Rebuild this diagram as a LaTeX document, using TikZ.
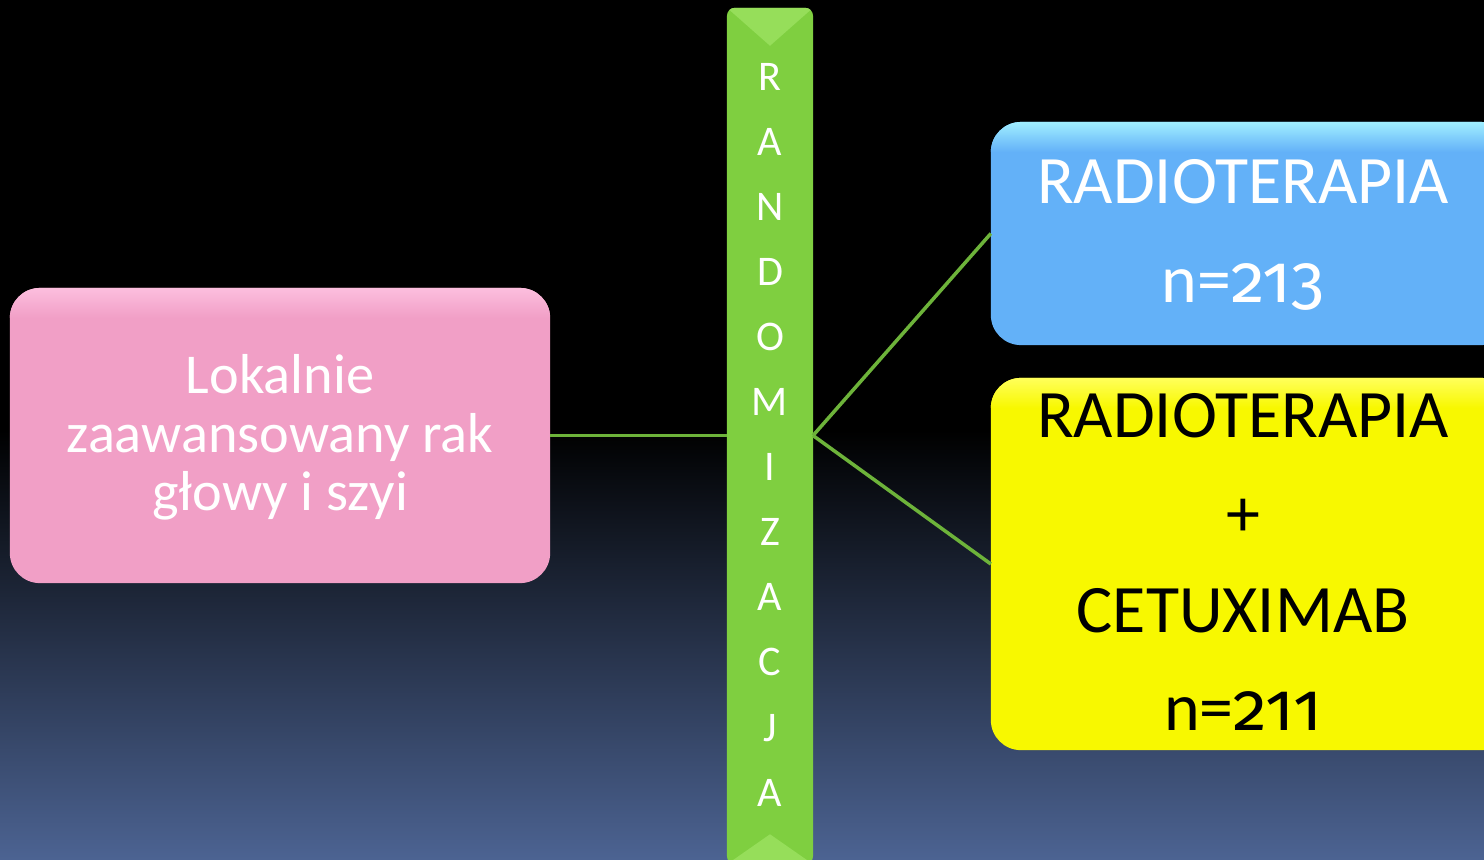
\documentclass[tikz,border=0pt]{standalone}
\usepackage{fontspec}
\setmainfont{Carlito}
\newfontfamily\numfont{Fira Sans}[Numbers=OldStyle]
\definecolor{bgblue}{RGB}{76,99,146}
\definecolor{pinkc}{RGB}{241,159,198}
\definecolor{pinkl}{RGB}{252,190,222}
\definecolor{bluec}{RGB}{99,177,248}
\definecolor{bluel}{RGB}{160,238,255}
\definecolor{yellowc}{RGB}{248,248,0}
\definecolor{yellowl}{RGB}{255,255,90}
\definecolor{greenc}{RGB}{127,207,64}
\definecolor{greenl}{RGB}{150,222,90}
\definecolor{linec}{RGB}{109,179,58}
\tikzset{
  box/.style={draw=none, rounded corners=0.3cm, inner sep=0pt, outer sep=0pt},
  conn/.style={draw=linec, line width=1pt},
  pinktxt/.style={anchor=base, text=white, font=\fontsize{16}{19}\selectfont, inner sep=0pt},
  bartxt/.style={anchor=base, text=white, font=\fontsize{12}{14}\selectfont, inner sep=0pt},
  bigtxt/.style={anchor=base, font=\fontsize{19.3}{23}\selectfont, inner sep=0pt}
}
\begin{document}
\begin{tikzpicture}[x=0.01cm,y=-0.01cm]
\useasboundingbox (0,0) rectangle (1484,859);
\fill[black] (0,0) rectangle (1484,430);
\shade[top color=black, bottom color=bgblue] (0,430) rectangle (1484,859);
\clip (0,0) rectangle (1484,859);

% boxes
\node[box, fill=pinkc, minimum width=5.40cm, minimum height=2.95cm] (pink) at (280,435.5) {};
\node[box, fill=greenc, rounded corners=0.08cm, minimum width=0.86cm, minimum height=8.56cm] (bar) at (770,436) {};
\node[box, fill=bluec, minimum width=5.20cm, minimum height=2.23cm] (blue) at (1251,233.5) {};
\node[box, fill=yellowc, minimum width=5.20cm, minimum height=3.72cm] (yellow) at (1251,564) {};

% bevel highlights
\begin{scope}
  \clip[rounded corners=0.3cm] (pink.north west) rectangle (pink.south east);
  \shade[top color=pinkl, bottom color=pinkc] (pink.north west) rectangle ([yshift=-0.3cm]pink.north east);
\end{scope}
\begin{scope}
  \clip[rounded corners=0.3cm] (blue.north west) rectangle (blue.south east);
  \shade[top color=bluel, bottom color=bluec] (blue.north west) rectangle ([yshift=-0.3cm]blue.north east);
\end{scope}
\begin{scope}
  \clip[rounded corners=0.3cm] (yellow.north west) rectangle (yellow.south east);
  \shade[top color=yellowl, bottom color=yellowc] (yellow.north west) rectangle ([yshift=-0.3cm]yellow.north east);
\end{scope}
\begin{scope}
  \clip[rounded corners=0.08cm] (bar.north west) rectangle (bar.south east);
  \fill[greenl] (bar.north west) -- (bar.north east) -- ([yshift=-0.38cm]bar.north) -- cycle;
  \fill[greenl] (bar.south west) -- (bar.south east) -- ([yshift=0.3cm]bar.south) -- cycle;
\end{scope}

% connectors
\coordinate (fork) at (bar.east |- pink.east);
\draw[conn] (pink.east) -- (bar.west |- pink.east);
\draw[conn] (fork) -- (blue.west);
\draw[conn] (fork) -- (yellow.west);

% pink text
\node[pinktxt] (p1) at (280,393) {Lokalnie};
\node[pinktxt] (p2) at (280,452) {zaawansowany rak};
\node[pinktxt] (p3) at (280,510) {głowy i szyi};

% bar letters
\foreach \c [count=\i from 0] in {R,A,N,D,O,M,I,Z,A,C,J,A} {
  \node[bartxt] (b\i) at (770,{90+65.1*\i}) {\c};
}

% blue text
\node[bigtxt, text=white] (bl1) at (1243,203) {RADIOTERAPIA};
\node[bigtxt, text=white] (bl2) at (1243,302) {n={\numfont 213}};

% yellow text
\node[bigtxt, text=black] (y1) at (1243,437) {RADIOTERAPIA};
\node[bigtxt, text=black, anchor=center] (y2) at (1243,518) {+};
\node[bigtxt, text=black] (y3) at (1243,632) {CETUXIMAB};
\node[bigtxt, text=black] (y4) at (1243,730) {n={\numfont 211}};
\end{tikzpicture}
\end{document}
